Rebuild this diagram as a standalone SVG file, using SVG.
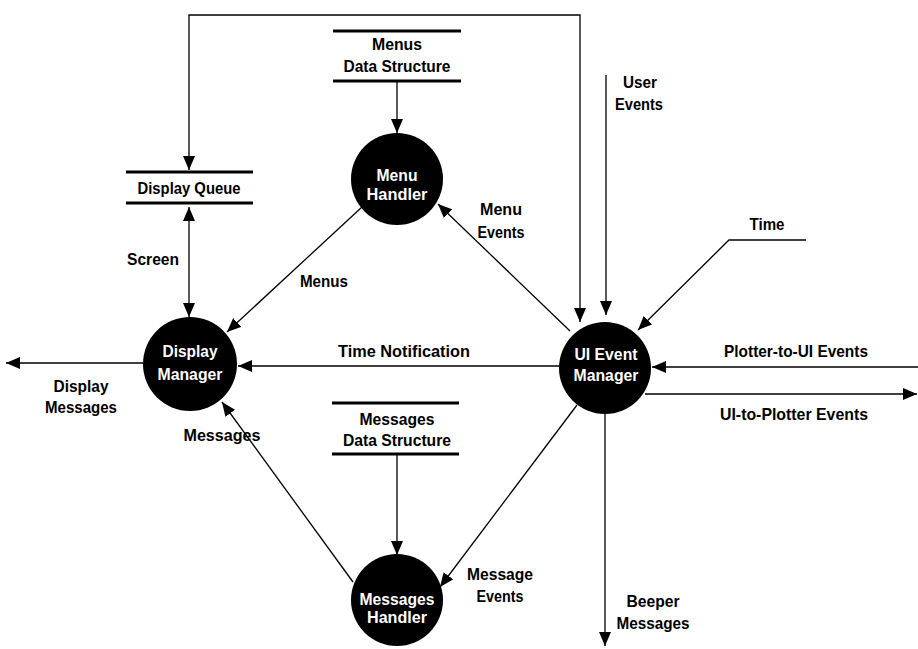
<svg xmlns="http://www.w3.org/2000/svg" width="918" height="649" viewBox="0 0 918 649">
<defs>
<marker id="ah" markerUnits="userSpaceOnUse" markerWidth="14" markerHeight="12" refX="14" refY="6" orient="auto-start-reverse" viewBox="0 0 14 12">
<path d="M0,0 L14,6 L0,12 z" fill="#000"/>
</marker>
<style>
text{font-family:"Liberation Sans Narrow","Liberation Sans",Arial,sans-serif;font-weight:bold;font-size:17px;fill:#000;text-anchor:middle}
.w{fill:#fff}
.c{stroke:#000;stroke-width:1.3;fill:none}
.s{stroke:#000;stroke-width:3}
circle{fill:#000}
</style>
</defs>
<rect width="918" height="649" fill="#fff"/>
<g id="connectors">
<path class="c" d="M580,322 V15 H189 V170" marker-start="url(#ah)" marker-end="url(#ah)"/>
<path class="c" d="M397,81 V133" marker-end="url(#ah)"/>
<path class="c" d="M189,207 V317" marker-start="url(#ah)" marker-end="url(#ah)"/>
<path class="c" d="M362,207 L227,332" marker-end="url(#ah)"/>
<path class="c" d="M570,331 L438,204" marker-end="url(#ah)"/>
<path class="c" d="M559,366 L238,366" marker-end="url(#ah)"/>
<path class="c" d="M143,363 L6,363" marker-end="url(#ah)"/>
<path class="c" d="M353,582 L222,402" marker-end="url(#ah)"/>
<path class="c" d="M577,405 L440,587" marker-end="url(#ah)"/>
<path class="c" d="M397,454 V555" marker-end="url(#ah)"/>
<path class="c" d="M606,75 V315" marker-end="url(#ah)"/>
<path class="c" d="M806,240 H729 L638,330" marker-end="url(#ah)"/>
<path class="c" d="M918,367 H652" marker-end="url(#ah)"/>
<path class="c" d="M645,394 H917" marker-end="url(#ah)"/>
<path class="c" d="M605,413 V646" marker-end="url(#ah)"/>
</g>
<g id="menus-ds">
<line class="s" x1="333" y1="31" x2="461" y2="31"/>
<line class="s" x1="333" y1="81" x2="461" y2="81"/>
<text x="397" y="50" textLength="50" lengthAdjust="spacingAndGlyphs">Menus</text>
<text x="397" y="72" textLength="107" lengthAdjust="spacingAndGlyphs">Data Structure</text>
</g>
<g id="display-queue">
<line class="s" x1="126" y1="172" x2="253" y2="172"/>
<line class="s" x1="126" y1="203" x2="253" y2="203"/>
<text x="189" y="194" textLength="103" lengthAdjust="spacingAndGlyphs">Display Queue</text>
</g>
<g id="messages-ds">
<line class="s" x1="332" y1="403" x2="459" y2="403"/>
<line class="s" x1="332" y1="454" x2="459" y2="454"/>
<text x="397" y="425" textLength="75" lengthAdjust="spacingAndGlyphs">Messages</text>
<text x="397" y="446" textLength="108" lengthAdjust="spacingAndGlyphs">Data Structure</text>
</g>
<g id="menu-handler">
<circle cx="397" cy="179" r="46"/>
<text class="w" x="397" y="181" textLength="41" lengthAdjust="spacingAndGlyphs">Menu</text>
<text class="w" x="397" y="200" textLength="61" lengthAdjust="spacingAndGlyphs">Handler</text>
</g>
<g id="display-manager">
<circle cx="190" cy="364" r="47"/>
<text class="w" x="190" y="357" textLength="55" lengthAdjust="spacingAndGlyphs">Display</text>
<text class="w" x="190" y="380" textLength="65" lengthAdjust="spacingAndGlyphs">Manager</text>
</g>
<g id="ui-event-manager">
<circle cx="605" cy="368" r="46"/>
<text class="w" x="606" y="360" textLength="63" lengthAdjust="spacingAndGlyphs">UI Event</text>
<text class="w" x="606" y="381" textLength="65" lengthAdjust="spacingAndGlyphs">Manager</text>
</g>
<g id="messages-handler">
<circle cx="397" cy="600" r="46"/>
<text class="w" x="397" y="605" textLength="75" lengthAdjust="spacingAndGlyphs">Messages</text>
<text class="w" x="397" y="623" textLength="60" lengthAdjust="spacingAndGlyphs">Handler</text>
</g>
<g id="labels">
<text x="153" y="265" textLength="52" lengthAdjust="spacingAndGlyphs">Screen</text>
<text x="324" y="287" textLength="48" lengthAdjust="spacingAndGlyphs">Menus</text>
<text x="501" y="215" textLength="42" lengthAdjust="spacingAndGlyphs">Menu</text>
<text x="501" y="238" textLength="47" lengthAdjust="spacingAndGlyphs">Events</text>
<text x="640" y="88" textLength="34" lengthAdjust="spacingAndGlyphs">User</text>
<text x="639" y="110" textLength="48" lengthAdjust="spacingAndGlyphs">Events</text>
<text x="767" y="230" textLength="35" lengthAdjust="spacingAndGlyphs">Time</text>
<text x="404" y="357" textLength="132" lengthAdjust="spacingAndGlyphs">Time Notification</text>
<text x="796" y="357" textLength="144" lengthAdjust="spacingAndGlyphs">Plotter-to-UI Events</text>
<text x="794" y="420" textLength="148" lengthAdjust="spacingAndGlyphs">UI-to-Plotter Events</text>
<text x="81" y="392" textLength="55" lengthAdjust="spacingAndGlyphs">Display</text>
<text x="81" y="413" textLength="72" lengthAdjust="spacingAndGlyphs">Messages</text>
<text x="222" y="441" textLength="77" lengthAdjust="spacingAndGlyphs">Messages</text>
<text x="500" y="580" textLength="66" lengthAdjust="spacingAndGlyphs">Message</text>
<text x="500" y="602" textLength="47" lengthAdjust="spacingAndGlyphs">Events</text>
<text x="653" y="607" textLength="53" lengthAdjust="spacingAndGlyphs">Beeper</text>
<text x="653" y="629" textLength="73" lengthAdjust="spacingAndGlyphs">Messages</text>
</g>
</svg>
